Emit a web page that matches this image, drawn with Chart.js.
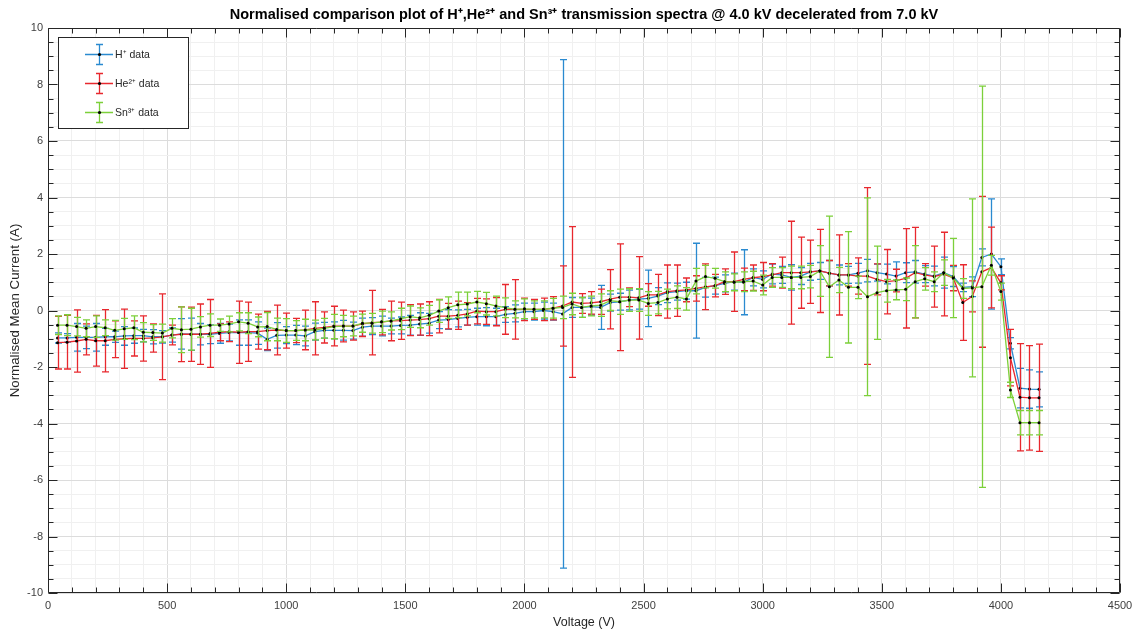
<!DOCTYPE html>
<html><head><meta charset="utf-8">
<script src="https://cdn.jsdelivr.net/npm/chart.js@4.4.1/dist/chart.umd.min.js"></script>
<style>html,body{margin:0;padding:0;background:#fff;overflow:hidden}#wrap{width:1140px;height:635px}</style>
</head><body><div id="wrap"><canvas id="c" width="1140" height="635"></canvas></div>
<script>
const voltages = [40,80,120,160,200,240,280,320,360,400,
 440,480,520,560,600,640,680,720,760,800,
 840,880,920,960,1000,1040,1080,1120,1160,1200,
 1240,1280,1320,1360,1400,1440,1480,1520,1560,1600,
 1640,1680,1720,1760,1800,1840,1880,1920,1960,2000,
 2040,2080,2120,2160,2200,2240,2280,2320,2360,2400,
 2440,2480,2520,2560,2600,2640,2680,2720,2760,2800,
 2840,2880,2920,2960,3000,3040,3080,3120,3160,3200,
 3240,3280,3320,3360,3400,3440,3480,3520,3560,3600,
 3640,3680,3720,3760,3800,3840,3880,3920,3960,4000,
 4040,4080,4120,4160];

const hMean = [-0.97,-0.97,-0.95,-0.95,-0.95,-0.93,-0.93,-0.90,-0.89,-0.89,
 -0.93,-0.93,-0.87,-0.83,-0.84,-0.84,-0.84,-0.81,-0.78,-0.78,
 -0.78,-0.80,-1.02,-0.88,-0.87,-0.87,-0.90,-0.75,-0.70,-0.70,
 -0.70,-0.71,-0.59,-0.55,-0.55,-0.55,-0.53,-0.52,-0.48,-0.45,
 -0.34,-0.32,-0.28,-0.24,-0.22,-0.22,-0.22,-0.14,-0.10,-0.04,
 -0.04,0.00,-0.04,-0.12,0.11,0.11,0.14,0.11,0.28,0.31,
 0.37,0.40,0.43,0.51,0.63,0.67,0.70,0.70,0.82,0.88,
 0.96,1.02,1.00,1.17,1.10,1.29,1.26,1.17,1.22,1.37,
 1.40,1.32,1.26,1.26,1.32,1.41,1.34,1.29,1.22,1.34,
 1.37,1.29,1.22,1.34,1.20,0.82,0.84,1.88,2.00,1.55,
 -1.16,-2.75,-2.78,-2.79];
const hErr = [0.18,0.15,0.49,0.40,0.49,0.30,0.20,0.33,0.27,0.22,
 0.25,0.22,0.25,0.54,0.57,0.38,0.33,0.35,0.30,0.45,
 0.45,0.40,0.40,0.45,0.30,0.34,0.35,0.30,0.28,0.30,
 0.35,0.30,0.32,0.30,0.35,0.28,0.30,0.35,0.40,0.35,
 0.30,0.35,0.30,0.28,0.30,0.32,0.30,0.28,0.30,0.30,
 0.30,0.30,0.30,9.00,0.35,0.35,0.30,0.78,0.30,0.30,
 0.35,0.35,1.00,0.30,0.35,0.30,0.30,1.68,0.35,0.30,
 0.30,0.30,1.15,0.30,0.30,0.35,0.30,0.45,0.30,0.30,
 0.30,0.45,0.35,0.30,0.35,0.40,0.30,0.35,0.50,0.35,
 0.40,0.30,0.35,0.55,0.35,0.15,0.35,0.30,1.95,0.28,
 0.20,0.70,0.68,0.62];

const heMean = [-1.14,-1.12,-1.08,-1.02,-1.07,-1.07,-1.02,-1.00,-0.99,-0.99,
 -0.97,-0.93,-0.87,-0.84,-0.84,-0.84,-0.81,-0.77,-0.75,-0.77,
 -0.75,-0.75,-0.71,-0.69,-0.71,-0.71,-0.69,-0.63,-0.60,-0.55,
 -0.55,-0.55,-0.47,-0.43,-0.41,-0.37,-0.36,-0.34,-0.32,-0.29,
 -0.20,-0.20,-0.17,-0.12,-0.02,-0.04,-0.04,0.04,0.04,0.04,
 0.04,0.04,0.08,0.16,0.30,0.25,0.27,0.31,0.40,0.47,
 0.47,0.45,0.55,0.55,0.67,0.70,0.73,0.78,0.84,0.88,
 1.02,1.02,1.10,1.16,1.20,1.26,1.34,1.34,1.34,1.37,
 1.40,1.32,1.26,1.26,1.22,1.22,1.10,1.02,1.06,1.14,
 1.34,1.26,1.20,1.29,1.15,0.28,0.50,1.37,1.52,0.98,
 -1.67,-3.07,-3.09,-3.09];
const heErr = [0.93,0.95,1.10,0.55,0.90,1.10,0.65,1.05,0.62,0.80,
 0.50,1.52,0.35,0.97,0.96,1.07,1.20,0.30,0.35,1.10,
 1.05,0.62,0.68,0.88,0.62,0.43,0.70,0.94,0.55,0.70,
 0.56,0.50,0.45,1.14,0.45,0.70,0.66,0.55,0.55,0.60,
 0.59,0.45,0.50,0.40,0.45,0.45,0.50,0.88,1.05,0.40,
 0.35,0.40,0.41,1.42,2.67,0.35,0.40,0.45,1.05,1.89,
 0.33,1.46,0.40,0.73,0.94,0.91,0.42,0.45,0.81,0.40,
 0.45,1.05,0.40,0.45,0.50,0.40,0.55,1.82,1.26,1.12,
 1.47,0.45,1.42,0.40,0.64,3.13,0.55,1.14,0.40,1.76,
 1.60,0.40,1.08,1.48,0.45,1.34,0.55,2.67,1.43,0.25,
 1.00,1.90,1.85,1.90];

const snMean = [-0.52,-0.52,-0.57,-0.63,-0.57,-0.61,-0.70,-0.65,-0.61,-0.77,
 -0.78,-0.80,-0.63,-0.68,-0.66,-0.58,-0.52,-0.52,-0.48,-0.40,
 -0.45,-0.58,-0.57,-0.67,-0.71,-0.71,-0.69,-0.69,-0.63,-0.57,
 -0.55,-0.55,-0.45,-0.45,-0.40,-0.37,-0.30,-0.22,-0.26,-0.17,
 -0.02,0.10,0.20,0.23,0.30,0.24,0.16,0.10,0.04,0.06,
 0.04,0.04,0.08,0.11,0.23,0.11,0.16,0.19,0.35,0.31,
 0.37,0.37,0.25,0.28,0.41,0.47,0.41,1.04,1.20,1.14,
 1.02,1.00,1.02,1.04,0.90,1.17,1.17,1.17,1.17,1.20,
 1.40,0.84,1.08,0.82,0.82,0.49,0.63,0.70,0.73,0.75,
 1.02,1.12,1.02,1.34,1.15,0.78,0.80,0.84,1.60,0.67,
 -2.81,-3.97,-3.97,-3.97];
const snErr = [0.33,0.37,0.33,0.30,0.38,0.28,0.35,0.37,0.42,0.34,
 0.28,0.32,0.34,0.81,0.74,0.36,0.40,0.22,0.28,0.32,
 0.37,0.35,0.50,0.40,0.42,0.35,0.38,0.35,0.35,0.43,
 0.38,0.35,0.32,0.35,0.38,0.32,0.38,0.38,0.35,0.35,
 0.40,0.38,0.45,0.42,0.38,0.40,0.35,0.35,0.30,0.35,
 0.30,0.30,0.35,0.40,0.38,0.35,0.35,0.40,0.35,0.45,
 0.40,0.40,0.42,0.40,0.35,0.40,0.40,0.45,0.40,0.35,
 0.35,0.30,0.35,0.35,0.35,0.35,0.35,0.40,0.40,0.40,
 0.90,2.50,0.45,1.97,0.40,3.50,1.65,0.40,0.35,0.40,
 1.28,0.40,0.35,0.45,1.40,0.35,3.15,7.10,0.35,0.30,
 0.27,0.43,0.43,0.43];

const seriesLabels = ['H\u207A data', 'He\u00B2\u207A data', 'Sn\u00B3\u207A data'];
const titleText = 'Normalised comparison plot of H\u207A,He\u00B2\u207A and Sn\u00B3\u207A transmission spectra @ 4.0 kV decelerated from 7.0 kV';
const xLabel = 'Voltage (V)';
const yLabel = 'Normalised Mean Current (A)';

const COLORS = ['#2a8ad0', '#e8282e', '#7cd03a'];
const FONT = "'Liberation Sans', Arial, Helvetica, sans-serif";

function mkDataset(label, mean, err, color, order) {
  return {
    label, order, errors: err, errColor: color,
    data: voltages.map((v, i) => ({ x: v, y: mean[i] })),
    borderColor: color, borderWidth: 1.3,
    pointRadius: 1.5, pointHoverRadius: 1.5, pointBorderWidth: 0,
    pointBackgroundColor: '#000', pointBorderColor: '#000',
    tension: 0, fill: false
  };
}

const isMult = (v, m) => Math.abs(v / m - Math.round(v / m)) < 1e-6;

const errorBars = {
  id: 'errorBars',
  beforeDatasetDraw(chart, args) {
    const ds = chart.data.datasets[args.index];
    const xs = chart.scales.x, ys = chart.scales.y, ctx = chart.ctx;
    const cap = 3.5;
    ctx.save();
    ctx.strokeStyle = ds.errColor;
    ctx.lineWidth = 1.3;
    ctx.beginPath();
    ds.data.forEach((p, i) => {
      const e = ds.errors[i];
      const px = Math.round(xs.getPixelForValue(p.x)) + 0.5;
      const yt = ys.getPixelForValue(p.y + e), yb = ys.getPixelForValue(p.y - e);
      ctx.moveTo(px, yt); ctx.lineTo(px, yb);
      ctx.moveTo(px - cap, yt); ctx.lineTo(px + cap, yt);
      ctx.moveTo(px - cap, yb); ctx.lineTo(px + cap, yb);
    });
    ctx.stroke();
    ctx.restore();
  }
};

const frameAndLegend = {
  id: 'frameAndLegend',
  afterDatasetsDraw(chart) {
    const ctx = chart.ctx, a = chart.chartArea;
    const xs = chart.scales.x, ys = chart.scales.y;
    const L = Math.round(a.left) + 0.5, R = Math.round(a.right) - 0.5;
    const T = Math.round(a.top) + 0.5, B = Math.round(a.bottom) - 0.5;
    ctx.save();
    ctx.strokeStyle = '#262626';
    ctx.lineWidth = 1;
    ctx.beginPath();
    ctx.rect(L, T, R - L, B - T);
    xs.ticks.forEach(t => {
      const px = Math.round(xs.getPixelForValue(t.value)) + 0.5;
      const len = isMult(t.value, 500) ? 9 : 5;
      ctx.moveTo(px, B); ctx.lineTo(px, B - len);
      ctx.moveTo(px, T); ctx.lineTo(px, T + len);
    });
    ys.ticks.forEach(t => {
      const py = Math.round(ys.getPixelForValue(t.value)) + 0.5;
      const len = isMult(t.value, 2) ? 9 : 5;
      ctx.moveTo(L, py); ctx.lineTo(L + len, py);
      ctx.moveTo(R, py); ctx.lineTo(R - len, py);
    });
    ctx.stroke();

    const bx = 58.5, by = 37.5, bw = 130, bh = 91;
    ctx.fillStyle = '#fff';
    ctx.fillRect(bx, by, bw, bh);
    ctx.strokeStyle = '#262626';
    ctx.lineWidth = 1;
    ctx.strokeRect(bx, by, bw, bh);
    const rows = [54, 83, 112];
    seriesLabels.forEach((lab, k) => {
      const cy = rows[k] + 0.5, cx = 99.5;
      ctx.strokeStyle = COLORS[k];
      ctx.lineWidth = 1.3;
      ctx.beginPath();
      ctx.moveTo(85, cy); ctx.lineTo(113, cy);
      ctx.moveTo(cx, cy - 10); ctx.lineTo(cx, cy + 10);
      ctx.moveTo(cx - 3.5, cy - 10); ctx.lineTo(cx + 3.5, cy - 10);
      ctx.moveTo(cx - 3.5, cy + 10); ctx.lineTo(cx + 3.5, cy + 10);
      ctx.stroke();
      ctx.fillStyle = '#000';
      ctx.beginPath(); ctx.arc(cx, cy, 1.6, 0, Math.PI * 2); ctx.fill();
      ctx.fillStyle = '#262626';
      ctx.font = '10.5px ' + FONT;
      ctx.textBaseline = 'middle';
      ctx.textAlign = 'left';
      ctx.fillText(lab, 115, cy + 1);
    });
    ctx.restore();
  }
};

new Chart(document.getElementById('c'), {
  type: 'line',
  data: {
    datasets: [
      mkDataset(seriesLabels[0], hMean, hErr, COLORS[0], 2),
      mkDataset(seriesLabels[1], heMean, heErr, COLORS[1], 1),
      mkDataset(seriesLabels[2], snMean, snErr, COLORS[2], 0)
    ]
  },
  options: {
    responsive: false, animation: false, devicePixelRatio: 1,
    layout: { padding: { left: 0, right: 20, top: 0, bottom: 0 } },
    plugins: {
      legend: { display: false },
      tooltip: { enabled: false },
      title: {
        display: true, text: titleText, color: '#000', fullSize: false,
        font: { family: FONT, size: 14.5, weight: 'bold', lineHeight: 1.2 },
        padding: { top: 6, bottom: 4.6 }
      }
    },
    scales: {
      x: {
        type: 'linear', min: 0, max: 4500,
        afterFit(s) { s.height = 42; },
        border: { display: false },
        grid: {
          drawTicks: false,
          color: c => isMult(c.tick.value, 500) ? '#dcdcdc' : '#f0f0f0',
          lineWidth: 1
        },
        ticks: {
          stepSize: 100, autoSkip: false, maxRotation: 0, padding: 6,
          color: '#404040', font: { family: FONT, size: 11 },
          callback: v => isMult(v, 500) ? String(v) : ''
        },
        title: {
          display: true, text: xLabel, color: '#262626',
          font: { family: FONT, size: 12.5 }, padding: { top: 0, bottom: 5 }
        }
      },
      y: {
        type: 'linear', min: -10, max: 10,
        afterFit(s) { s.width = 48; },
        border: { display: false },
        grid: {
          drawTicks: false,
          color: c => isMult(c.tick.value, 2) ? '#dcdcdc' : '#f0f0f0',
          lineWidth: 1
        },
        ticks: {
          stepSize: 0.5, autoSkip: false, padding: 5,
          color: '#404040', font: { family: FONT, size: 11 },
          callback: v => isMult(v, 2) ? String(Math.round(v)) : ''
        },
        title: {
          display: true, text: yLabel, color: '#262626',
          font: { family: FONT, size: 13.3 }, padding: { top: 7, bottom: 0 }
        }
      }
    }
  },
  plugins: [errorBars, frameAndLegend]
});
</script>
</body></html>
